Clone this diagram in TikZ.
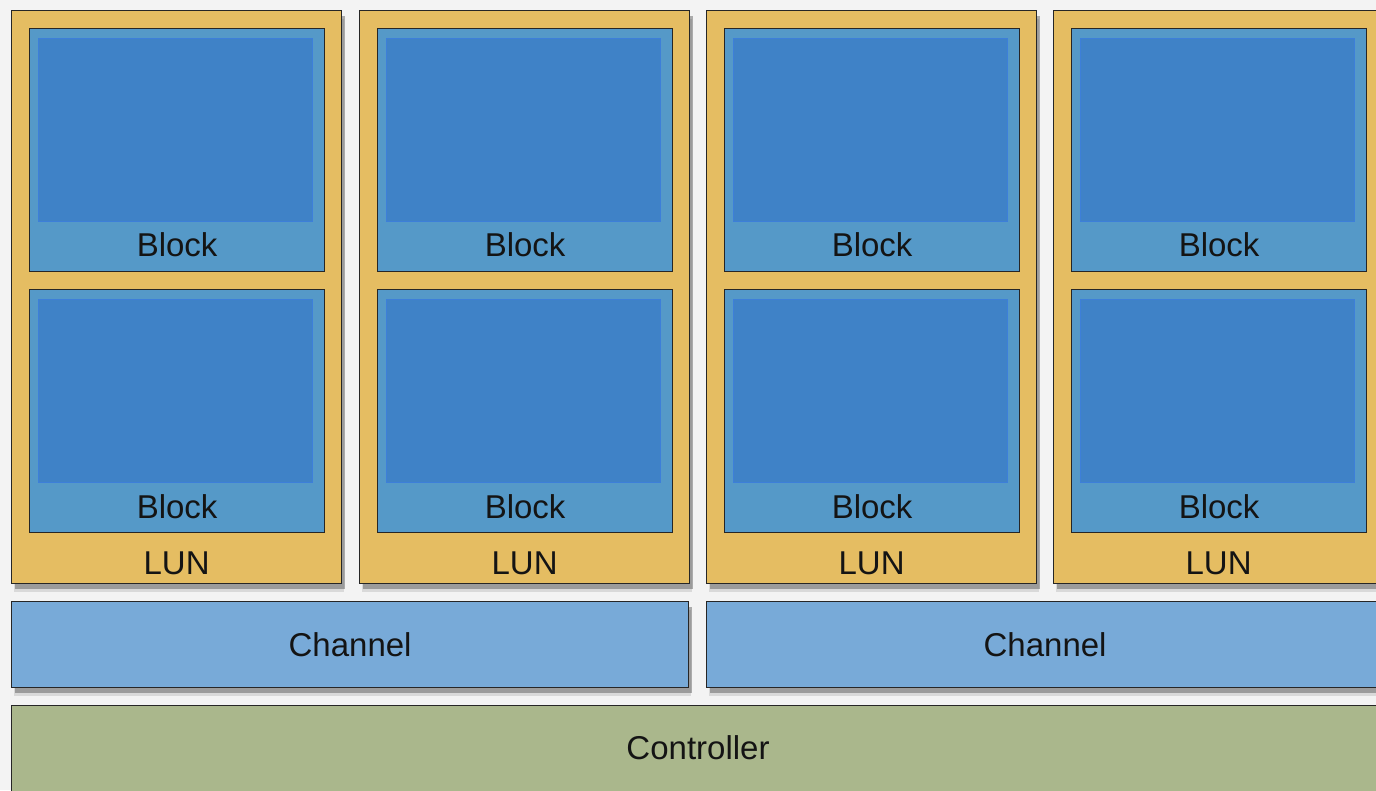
\documentclass[tikz,border=0pt]{standalone}
\usepackage{fontspec}
\setmainfont{Liberation Sans}
\usetikzlibrary{shadows,positioning}

\definecolor{bggray}{HTML}{F3F3F3}
\definecolor{lungold}{HTML}{E5BD62}
\definecolor{blockblue}{HTML}{5599C8}
\definecolor{cellblue}{HTML}{3F82C7}
\definecolor{celledge}{HTML}{3D7FD9}
\definecolor{chanblue}{HTML}{78AAD8}
\definecolor{ctrlgreen}{HTML}{AAB78C}

\tikzset{
  box/.style={rectangle, draw=black!85, line width=1.2pt, inner sep=0pt, anchor=north west},
  shade box/.style={
    drop shadow={shadow xshift=2pt, shadow yshift=-8pt, fill=black!60, opacity=0.18},
    drop shadow={shadow xshift=3pt, shadow yshift=-5pt, fill=black!75, opacity=0.4}},
  lunbox/.style={box, shade box, fill=lungold, minimum width=330pt, minimum height=573pt},
  blockbox/.style={box, fill=blockblue, minimum width=295pt, minimum height=243pt},
  cellbox/.style={rectangle, fill=cellblue, draw=celledge, line width=0.6pt, inner sep=0pt,
    anchor=north west, minimum width=274pt, minimum height=183pt},
  chanbox/.style={box, shade box, fill=chanblue, minimum width=677pt, minimum height=86pt},
  ctrlbox/.style={box, shade box, fill=ctrlgreen, minimum width=1380pt, minimum height=100pt},
  lbl/.style={text=black!92, font=\fontsize{33}{40}\selectfont, inner sep=0pt}
}

\begin{document}
\begin{tikzpicture}[x=1pt,y=-1pt]

\path[use as bounding box, fill=bggray] (0,0) rectangle (1376,790);
\clip (0,0) rectangle (1376,790);

% four LUNs, two blocks each
\foreach \i/\x in {0/11,1/359,2/706,3/1053} {
    \coordinate (c\i) at (\x,10);
    \node[lunbox] (lun\i) at (c\i) {};
    \node[lbl] (lunlbl\i) at ([yshift=21pt]lun\i.south) {LUN};

    \node[blockbox] (blka\i) at ([xshift=18pt,yshift=-18pt]lun\i.north west) {};
    \node[blockbox, below=17pt of blka\i.south west, anchor=north west] (blkb\i) {};

    \foreach \b in {a,b} {
        \node[cellbox] (cell\b\i) at ([xshift=9pt,yshift=-10pt]blk\b\i.north west) {};
        \node[lbl] (blklbl\b\i) at ([yshift=27pt]blk\b\i.south) {Block};
    }
}

% channels
\node[chanbox] (chan0) at (11,601) {};
\node[chanbox] (chan1) at (706,601) {};
\foreach \j in {0,1}
    \node[lbl] (chanlbl\j) at (chan\j.center) {Channel};

% controller
\node[ctrlbox] (ctrl) at (11,705) {};
\node[lbl] (ctrllbl) at (698,748) {Controller};

\end{tikzpicture}
\end{document}
